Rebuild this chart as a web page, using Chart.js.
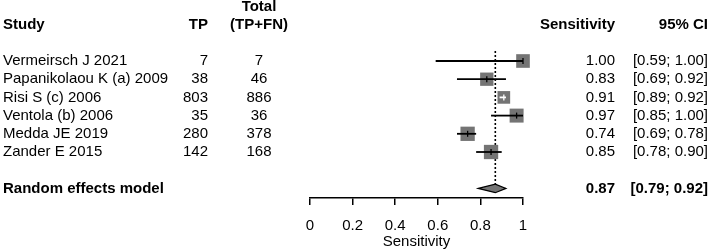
<!DOCTYPE html>
<html>
<head>
<meta charset="utf-8">
<script src="https://cdn.jsdelivr.net/npm/chart.js@4/dist/chart.umd.min.js"></script>
<style>
  html, body { margin: 0; padding: 0; background: #fff; }
  #wrap { width: 714px; height: 252px; position: relative; }
</style>
</head>
<body>
<div id="wrap"><canvas id="c"></canvas></div>
<script>
// ---- data ----
const studies = ["Vermeirsch J 2021", "Papanikolaou K (a) 2009", "Risi S (c) 2006", "Ventola (b) 2006", "Medda JE 2019", "Zander E 2015"];
const tp = [7, 38, 803, 35, 280, 142];
const total = [7, 46, 886, 36, 378, 168];
const sensitivity = [1.00, 0.83, 0.91, 0.97, 0.74, 0.85];
const ciLower = [0.59, 0.69, 0.89, 0.85, 0.69, 0.78];
const ciUpper = [1.00, 0.92, 0.92, 1.00, 0.78, 0.90];
const weights = [16.6, 16.2, 15.4, 17.0, 17.4, 17.4];
const pooledLabel = "Random effects model";
const pooled = [0.87, 0.79, 0.92]; // estimate, lower, upper
const xTicks = [0, 0.2, 0.4, 0.6, 0.8, 1];
const xTickLabels = ["0", "0.2", "0.4", "0.6", "0.8", "1"];
const headers = { study: "Study", tp: "TP", totalTop: "Total", total: "(TP+FN)", est: "Sensitivity", ci: "95% CI" };
const xTitle = "Sensitivity";

// ---- styles ----
const FONT = "'Liberation Sans', Arial, Helvetica, sans-serif";
const FS = 15;
const GREY = "#747474";
const MAX_SIDE = 14.3;
const maxW = Math.max(...weights);
const sides = weights.map(w => MAX_SIDE * w / maxW);
const fmt = v => v.toFixed(2);

const forestPlugin = {
  id: 'forest',
  beforeDatasetsDraw(chart) {
    const { ctx } = chart;
    const xs = chart.scales.x, ys = chart.scales.y;
    // dotted reference line at pooled estimate
    const px = xs.getPixelForValue(pooled[0]);
    ctx.save();
    ctx.strokeStyle = "#000";
    ctx.lineWidth = 1.6;
    ctx.setLineDash([2, 2]);
    ctx.beginPath();
    ctx.moveTo(px, ys.getPixelForValue(-0.55));
    ctx.lineTo(px, ys.getPixelForValue(studies.length + 1) - 4);
    ctx.stroke();
    ctx.restore();
  },
  afterDatasetsDraw(chart) {
    const { ctx } = chart;
    const xs = chart.scales.x, ys = chart.scales.y;
    ctx.save();
    // CI lines
    studies.forEach((s, i) => {
      const y = ys.getPixelForValue(i);
      const xl = xs.getPixelForValue(ciLower[i]);
      const xh = xs.getPixelForValue(ciUpper[i]);
      const xe = xs.getPixelForValue(sensitivity[i]);
      const half = sides[i] / 2;
      const inside = xl >= xe - half && xh <= xe + half;
      ctx.strokeStyle = inside ? "#fff" : "#000";
      ctx.lineWidth = 1.8;
      ctx.beginPath();
      ctx.moveTo(xl, y); ctx.lineTo(xh, y);
      ctx.stroke();
      ctx.lineWidth = 1.3;
      ctx.beginPath();
      ctx.moveTo(xe, y - 3); ctx.lineTo(xe, y + 3);
      ctx.stroke();
    });
    // diamond
    const yd = ys.getPixelForValue(studies.length + 1);
    const dl = xs.getPixelForValue(pooled[1]);
    const de = xs.getPixelForValue(pooled[0]);
    const dh = xs.getPixelForValue(pooled[2]);
    ctx.fillStyle = GREY;
    ctx.strokeStyle = "#000";
    ctx.lineWidth = 1.2;
    ctx.beginPath();
    ctx.moveTo(dl, yd); ctx.lineTo(de, yd - 4.3); ctx.lineTo(dh, yd); ctx.lineTo(de, yd + 4.3);
    ctx.closePath();
    ctx.fill(); ctx.stroke();

    // text
    const colStudy = 3, colTP = 208, colTotal = 259, colEst = 615, colCI = 708;
    const txt = (t, x, y, align, bold) => {
      ctx.font = (bold ? "bold " : "") + FS + "px " + FONT;
      ctx.textAlign = align;
      ctx.textBaseline = "middle";
      ctx.fillStyle = "#000";
      ctx.fillText(t, x, y);
    };
    const yH = ys.getPixelForValue(-2), yH2 = ys.getPixelForValue(-3);
    txt(headers.study, colStudy, yH, "left", true);
    txt(headers.tp, colTP, yH, "right", true);
    txt(headers.totalTop, colTotal, yH2, "center", true);
    txt(headers.total, colTotal, yH, "center", true);
    txt(headers.est, colEst, yH, "right", true);
    txt(headers.ci, colCI, yH, "right", true);
    studies.forEach((s, i) => {
      const y = ys.getPixelForValue(i);
      txt(s, colStudy, y, "left", false);
      txt(String(tp[i]), colTP, y, "right", false);
      txt(String(total[i]), colTotal, y, "center", false);
      txt(fmt(sensitivity[i]), colEst, y, "right", false);
      txt("[" + fmt(ciLower[i]) + "; " + fmt(ciUpper[i]) + "]", colCI, y, "right", false);
    });
    txt(pooledLabel, colStudy, yd, "left", true);
    txt(fmt(pooled[0]), colEst, yd, "right", true);
    txt("[" + fmt(pooled[1]) + "; " + fmt(pooled[2]) + "]", colCI, yd, "right", true);
    ctx.restore();
  }
};

new Chart(document.getElementById('c'), {
  type: 'scatter',
  data: {
    datasets: [{
      data: sensitivity.map((v, i) => ({ x: v, y: i })),
      pointStyle: 'rect',
      pointRadius: sides.map(s => s / (2 * Math.SQRT1_2)),
      pointHoverRadius: sides.map(s => s / (2 * Math.SQRT1_2)),
      backgroundColor: GREY,
      borderWidth: 0,
      clip: false
    }]
  },
  options: {
    responsive: true,
    maintainAspectRatio: false,
    animation: false,
    events: [],
    layout: { padding: { left: 310, right: 191, top: 42.8, bottom: 0 } },
    plugins: { legend: { display: false }, tooltip: { enabled: false }, title: { display: false } },
    scales: {
      x: {
        type: 'linear', min: 0, max: 1, position: 'bottom',
        afterBuildTicks: s => { s.ticks = xTicks.map(v => ({ value: v })); },
        afterFit: s => { s.height = 54.5; },
        ticks: {
          autoSkip: false, maxRotation: 0, color: '#000', padding: 12,
          font: { family: FONT, size: FS },
          callback: (v, idx) => xTickLabels[idx]
        },
        grid: { drawOnChartArea: false, drawTicks: true, tickLength: 7.5, color: '#000', lineWidth: 1.5 },
        border: { display: true, color: '#000', width: 1.5 },
        title: { display: true, text: xTitle, color: '#000', font: { family: FONT, size: FS }, padding: { top: 0, bottom: 1 } }
      },
      y: { type: 'linear', display: false, min: -1, max: 7.5, reverse: true }
    }
  },
  plugins: [forestPlugin]
});
</script>
</body>
</html>
